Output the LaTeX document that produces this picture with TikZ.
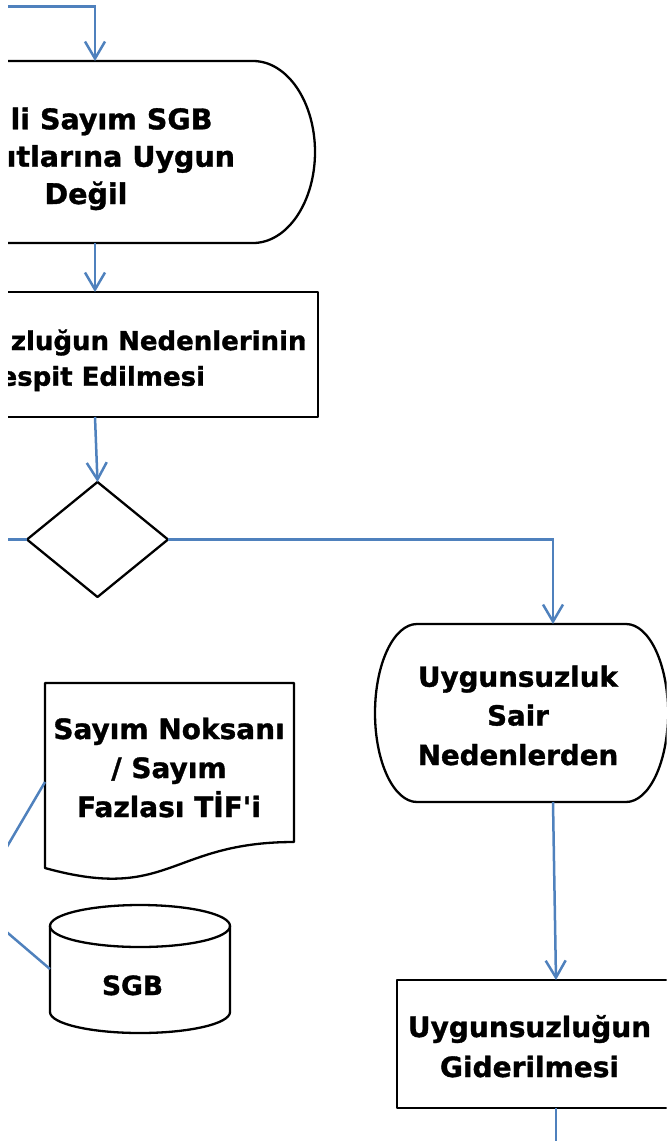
\documentclass[tikz,border=0pt]{standalone}
\usepackage{fontspec}
\setmainfont{DejaVu Sans}[Ligatures=TeXOff,BoldFeatures={FakeBold=1.2}]
\usetikzlibrary{arrows.meta,shapes.geometric,calc}
\definecolor{conblue}{RGB}{79,129,189}
\begin{document}
\begin{tikzpicture}[x=1pt,y=1pt,
  shp/.style={draw=black,line width=2.3pt,line join=round},
  box/.style={rectangle,inner sep=0pt,outer sep=0pt},
  conn/.style={draw=conblue,line width=2.5pt},
  arr/.style={conn,-{Straight Barb[length=17pt,width=20pt]}},
  txt/.style={inner sep=0pt,outer sep=0pt},
  fA/.style={font=\bfseries\fontsize{28.5}{30}\selectfont},
  fB/.style={font=\bfseries\fontsize{26}{30}\selectfont},
  fC/.style={font=\bfseries\fontsize{27.7}{30}\selectfont},
  fD/.style={font=\bfseries\fontsize{28}{30}\selectfont},
  fE/.style={font=\bfseries\fontsize{26.5}{30}\selectfont}]
\path[use as bounding box] (0,0) rectangle (668,-1141);
\clip (8,2) rectangle (666.5,-1143);

% shapes
\node[box,minimum width=440pt,minimum height=182pt] (tA) at (95,-152) {};
\draw[shp] ([xshift=62pt]tA.north west) -- ([xshift=-62pt]tA.north east)
  arc[start angle=90,end angle=-90,x radius=62pt,y radius=91pt]
  -- ([xshift=62pt]tA.south west)
  arc[start angle=270,end angle=90,x radius=62pt,y radius=91pt] -- cycle;

\node[box,shp,minimum width=446pt,minimum height=125pt] (rA) at (95,-354.5) {};

\node[diamond,shp,inner sep=0pt,outer sep=0pt,minimum width=141pt,minimum height=115pt] (D) at (97.5,-539.5) {};

\node[box,minimum width=293pt,minimum height=178pt] (s2) at (521.5,-713) {};
\draw[shp] ([xshift=42pt]s2.north west) -- ([xshift=-42pt]s2.north east)
  arc[start angle=90,end angle=-90,x radius=42pt,y radius=89pt]
  -- ([xshift=42pt]s2.south west)
  arc[start angle=270,end angle=90,x radius=42pt,y radius=89pt] -- cycle;

\node[box,shp,minimum width=318.6pt,minimum height=128pt] (r3) at (556,-1044) {};

\node[box,minimum width=249pt,minimum height=185pt] (doc) at (169.5,-775.5) {};
\draw[shp] (doc.north west) -- (doc.north east) -- ([yshift=26pt]doc.south east)
  .. controls ([yshift=26pt]doc.south) and ([yshift=-34.6pt]doc.south) .. (doc.south west) -- cycle;

\node[box,minimum width=180pt,minimum height=128pt] (cyl) at (140,-969) {};
\draw[shp] ([yshift=-21pt]cyl.north) ellipse[x radius=90pt,y radius=21pt];
\draw[shp] ([yshift=-21pt]cyl.north west) -- ([yshift=21pt]cyl.south west)
  arc[start angle=180,end angle=360,x radius=90pt,y radius=21pt] -- ([yshift=-21pt]cyl.north east);

% free ends
\coordinate (in0) at (-10,-6.7);
\coordinate (dl) at (-10,-539.5);
\coordinate (l1) at (0,-858.6);
\coordinate (l2) at (0,-926.3);
\coordinate (b0) at (556,-1150);

% connectors
\draw[arr] (in0) -| (tA.north);
\draw[arr] (tA.south) -- (rA.north);
\draw[arr] (rA.south) -- (D.north);
\draw[conn] (D.west) -- (dl);
\draw[arr] (D.east) -| ([xshift=31.5pt]s2.north);
\draw[arr] ([xshift=31.5pt]s2.south) -- (r3.north);
\draw[conn] (r3.south) -- (b0);
\draw[conn] (l1) -- ([yshift=-6.5pt]doc.west);
\draw[conn] (l2) -- (cyl.west);

% texts
\node[txt,fA,anchor=base east] (tA1) at (212.5,-129.3) {li Sayım SGB};
\node[txt,fA,anchor=base east] (tA2) at (235,-166.7) {ıtlarına Uygun};
\node[txt,fA,anchor=base] (tA3) at (86,-204) {Değil};

\node[txt,fB,anchor=base east] (rA1) at (306.5,-350) {zluğun Nedenlerinin};
\node[txt,fB,anchor=base east] (rA2) at (205,-385.7) {espit Edilmesi};

\node[txt,fC,anchor=base] (s21) at (518,-686.7) {Uygunsuzluk};
\node[txt,fC,anchor=base] (s22) at (518,-725.5) {Sair};
\node[txt,fC,anchor=base] (s23) at (518,-765) {Nedenlerden};

\node[txt,fD,anchor=base] (d1) at (169,-739) {Sayım Noksanı};
\node[txt,fD,anchor=base] (d2) at (169,-778) {/ Sayım};
\node[txt,fD,anchor=base] (d3) at (169,-817) {Fazlası TİF'i};

\node[txt,fE,anchor=base] (c1) at (132.5,-995) {SGB};

\node[txt,fD,anchor=base] (r31) at (529.5,-1037) {Uygunsuzluğun};
\node[txt,fD,anchor=base] (r32) at (529.5,-1077) {Giderilmesi};
\end{tikzpicture}
\end{document}
